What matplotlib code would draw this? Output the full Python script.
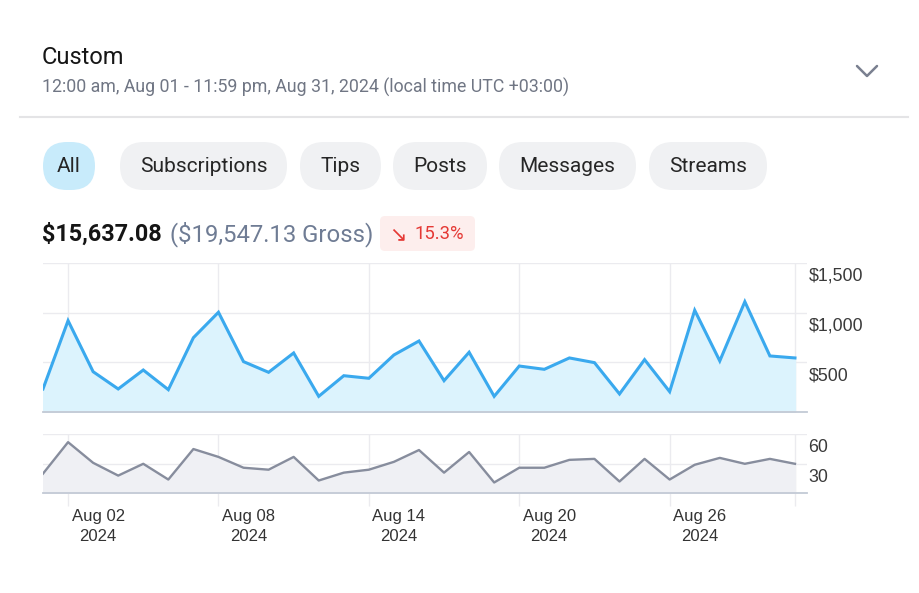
import datetime as dt
import matplotlib
matplotlib.use("Agg")
import matplotlib.pyplot as plt
import matplotlib.dates as mdates
import matplotlib.transforms as mtrans
from matplotlib.patches import FancyBboxPatch
from matplotlib.ticker import FixedLocator, FuncFormatter

# ---- data ----
days = [dt.date(2024, 8, d) for d in range(1, 32)]
earnings = [234, 919, 407, 234, 424, 227, 748, 1003, 508, 401, 595, 160, 367, 341,
            575, 715, 317, 602, 160, 464, 431, 545, 498, 184, 528, 207, 1023, 515,
            1109, 565, 545]
counts = [20, 52, 31, 18, 30, 14, 45, 37, 26, 24, 37, 13, 21, 24, 32, 44, 21, 42,
          11, 26, 26, 34, 35, 12, 35, 14, 29, 36, 30, 35, 30]
earn_ticks = [500, 1000, 1500]
count_ticks = [30, 60]
tabs = ["All", "Subscriptions", "Tips", "Posts", "Messages", "Streams"]
net_total = "$15,637.08"
gross_total = "($19,547.13 Gross)"
change = "15.3%"
title = "Custom"
subtitle = "12:00 am, Aug 01 - 11:59 pm, Aug 31, 2024 (local time UTC +03:00)"

W, H = 919, 593
fig = plt.figure(figsize=(W / 100, H / 100), dpi=100)
fig.patch.set_facecolor("white")

# overlay in pixel coordinates for the page furniture
ov = fig.add_axes([0, 0, 1, 1])
ov.set_xlim(0, W)
ov.set_ylim(H, 0)
ov.axis("off")

ui = ["Roboto", "DejaVu Sans"]
ov.text(42, 57, title, fontsize=17, color="#161616", family=ui, va="center")
ov.text(42, 87, subtitle, fontsize=12.8, color="#707684", family=ui, va="center")
ov.plot([857, 867, 877], [66, 76, 66], color="#7a8090", lw=1.8, solid_capstyle="round")
ov.plot([20, 908], [117, 117], color="#e4e4e6", lw=1.5)

# filter pills
pill_x = [(43, 95), (120, 287), (300, 381), (393, 487), (499, 636), (649, 767)]
for i, (name, (x0, x1)) in enumerate(zip(tabs, pill_x)):
    bg = "#c8ebfb" if i == 0 else "#f0f1f3"
    ov.add_patch(FancyBboxPatch((x0, 142), x1 - x0, 48,
                                boxstyle="round,pad=0,rounding_size=24",
                                fc=bg, ec="none"))
    ov.text((x0 + x1) / 2, 166.5, name, fontsize=15, color="#262626", family=ui,
            ha="center", va="center")

# totals line
ov.text(42, 234, net_total, fontsize=16.8, fontweight="bold", color="#151515",
        family=ui, va="center")
ov.text(170, 234, gross_total, fontsize=17.2, color="#6f7c94", family=ui, va="center")
ov.add_patch(FancyBboxPatch((380, 216), 95, 35, boxstyle="round,pad=0,rounding_size=5",
                            fc="#fdeeed", ec="none"))
ov.text(398, 234, "↘", fontsize=15, color="#e53935", family=["DejaVu Sans"],
        ha="center", va="center")
ov.text(414, 234, change, fontsize=13.3, color="#e53935", family=ui, va="center")

# ---- charts ----
x0f, x1f = 43 / W, 807 / W
ax1 = fig.add_axes([x0f, 1 - 412.3 / H, x1f - x0f, 149.6 / H])
ax2 = fig.add_axes([x0f, 1 - 493.3 / H, x1f - x0f, 59 / H])

xmin = mdates.date2num(dt.date(2024, 8, 1))
xmax = mdates.date2num(dt.date(2024, 8, 31)) + 0.48
major = [mdates.date2num(dt.date(2024, 8, d)) for d in (2, 8, 14, 20, 26)]
minor = [mdates.date2num(dt.date(2024, 8, 31))]

grid_c = "#ebebef"
base_c = "#c3cad5"
tick_font = ["Liberation Sans", "DejaVu Sans"]
y_shift = mtrans.ScaledTranslation(0, -5 / 100, fig.dpi_scale_trans)
x_shift = mtrans.ScaledTranslation(30 / 100, 0, fig.dpi_scale_trans)


def style(ax, ymax, yticks, fmt):
    ax.set_xlim(xmin, xmax)
    ax.set_ylim(0, ymax)
    for s in ["top", "left", "right"]:
        ax.spines[s].set_visible(False)
    ax.spines["bottom"].set_color(base_c)
    ax.spines["bottom"].set_linewidth(1.3)
    ax.yaxis.tick_right()
    ax.yaxis.set_major_locator(FixedLocator(yticks))
    ax.yaxis.set_major_formatter(FuncFormatter(fmt))
    ax.tick_params(axis="y", length=0, pad=1, labelsize=12.8, labelcolor="#3a3a3a")
    ax.xaxis.set_major_locator(FixedLocator(major))
    ax.xaxis.set_minor_locator(FixedLocator(minor))
    ax.grid(True, which="both", color=grid_c, lw=1)
    ax.set_axisbelow(True)
    for lbl in ax.get_yticklabels():
        lbl.set_va("top")
        lbl.set_family(tick_font)
        lbl.set_transform(lbl.get_transform() + y_shift)


style(ax1, 1500, earn_ticks, lambda v, p: "${:,.0f}".format(v))
ax1.tick_params(axis="x", which="both", length=0, labelbottom=False)
ax1.fill_between(days, earnings, color="#dcf3fd", zorder=1)
ax1.plot(days, earnings, color="#3aa9ee", lw=2.2, zorder=3, solid_joinstyle="miter")

style(ax2, 60, count_ticks, lambda v, p: "{:.0f}".format(v))
ax2.xaxis.set_major_formatter(mdates.DateFormatter("%b %d\n%Y"))
ax2.tick_params(axis="x", which="both", length=9, width=1, color=grid_c, pad=2,
                labelsize=12, labelcolor="#333333")
for lbl in ax2.get_xticklabels():
    lbl.set_family(tick_font)
    lbl.set_linespacing(1.45)
    lbl.set_multialignment("center")
    lbl.set_transform(lbl.get_transform() + x_shift)
ax2.fill_between(days, counts, color="#eff0f4", zorder=1)
ax2.plot(days, counts, color="#878d9d", lw=1.7, zorder=3)

fig.savefig("out.png", dpi=100)
